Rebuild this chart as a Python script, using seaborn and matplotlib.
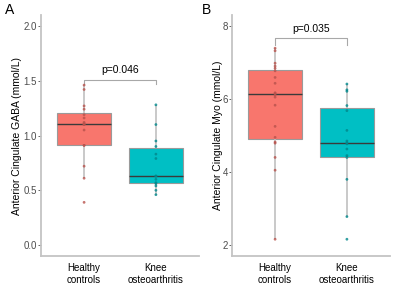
import pandas as pd
import numpy as np
import seaborn as sns
import matplotlib.pyplot as plt

# values
groups = ['Healthy\ncontrols', 'Knee\nosteoarthritis']
gaba_hc = [0.39, 0.61, 0.72, 0.91, 0.91, 1.05, 1.10, 1.10, 1.11, 1.12, 1.16, 1.19, 1.24, 1.27, 1.42, 1.46]
gaba_oa = [0.46, 0.50, 0.54, 0.56, 0.57, 0.60, 0.63, 0.63, 0.79, 0.83, 0.90, 0.95, 1.10, 1.28]
myo_hc = [2.16, 4.05, 4.40, 4.79, 4.82, 4.95, 5.25, 5.83, 6.05, 6.11, 6.15, 6.17, 6.43, 6.59, 6.77, 6.84, 6.90, 6.98, 7.32, 7.39]
myo_oa = [2.16, 2.78, 3.80, 4.40, 4.45, 4.63, 4.77, 4.80, 4.85, 5.14, 5.68, 5.82, 6.21, 6.25, 6.41]
p_values = ['p=0.046', 'p=0.035']

fills = ['#F8766D', '#00BFC4']
dots = ['#B8524C', '#00878B']

plt.rcParams['font.family'] = ['Liberation Sans', 'DejaVu Sans']

fig = plt.figure(figsize=(4, 2.88), dpi=100)
axA = fig.add_axes([0.1025, 0.111, 0.395, 0.837])
axB = fig.add_axes([0.58, 0.111, 0.395, 0.837])


def make_df(a, b):
    return pd.DataFrame({'group': [groups[0]] * len(a) + [groups[1]] * len(b),
                         'value': a + b})


panels = [
    (axA, make_df(gaba_hc, gaba_oa), 'Anterior Cingulate GABA (mmol/L)', (-0.1, 2.1),
     [0, 0.5, 1.0, 1.5, 2.0], ['0.0', '0.5', '1.0', '1.5', '2.0'], 1.507, 1.47, 1.6, p_values[0], -0.12),
    (axB, make_df(myo_hc, myo_oa), 'Anterior Cingulate Myo (mmol/L)', (1.7, 8.3),
     [2, 4, 6, 8], ['2', '4', '6', '8'], 7.66, 7.48, 7.92, p_values[1], -0.06),
]

for ax, df, ylab, ylim, yt, ytl, bar_y, bar_lo, txt_y, ptxt, lab_x in panels:
    sns.boxplot(data=df, x='group', y='value', hue='group', palette=fills, ax=ax,
                width=0.75, showfliers=False, legend=False, saturation=1,
                boxprops=dict(edgecolor='#9a9a9a', linewidth=0.8),
                whiskerprops=dict(color='#c0c0c0', linewidth=1.2),
                capprops=dict(linewidth=0),
                medianprops=dict(color='#3a3a3a', linewidth=1.0))
    sns.stripplot(data=df, x='group', y='value', hue='group', palette=dots, ax=ax,
                  jitter=False, size=2.0, alpha=0.8, legend=False, zorder=5)

    # significance bracket
    ax.plot([0, 0, 1, 1], [bar_lo, bar_y, bar_y, bar_lo], color='#a8a8a8', lw=0.8)
    ax.text(0.5, txt_y, ptxt, ha='center', va='center', fontsize=7.5)

    ax.set_xlim(-0.6, 1.6)
    ax.set_ylim(*ylim)
    ax.set_yticks(yt)
    ax.set_yticklabels(ytl)
    ax.set_xlabel('')
    ax.set_ylabel(ylab, fontsize=7.5)
    ax.yaxis.set_label_coords(lab_x, 0.5)
    ax.tick_params(axis='y', labelsize=7, colors='#4d4d4d', length=2, width=0.6, pad=1)
    ax.tick_params(axis='x', labelsize=7, length=0, pad=5)
    for lbl in ax.get_xticklabels():
        lbl.set_color('black')
    for s in ['top', 'right']:
        ax.spines[s].set_visible(False)
    for s in ['left', 'bottom']:
        ax.spines[s].set_color('#c4c4c4')
        ax.spines[s].set_linewidth(1.3)
    ax.set_facecolor('white')

fig.text(10 / 400, 1 - 10 / 288, 'A', fontsize=10, ha='center', va='center')
fig.text(207 / 400, 1 - 10 / 288, 'B', fontsize=10, ha='center', va='center')

plt.savefig('out.png', dpi=100)
